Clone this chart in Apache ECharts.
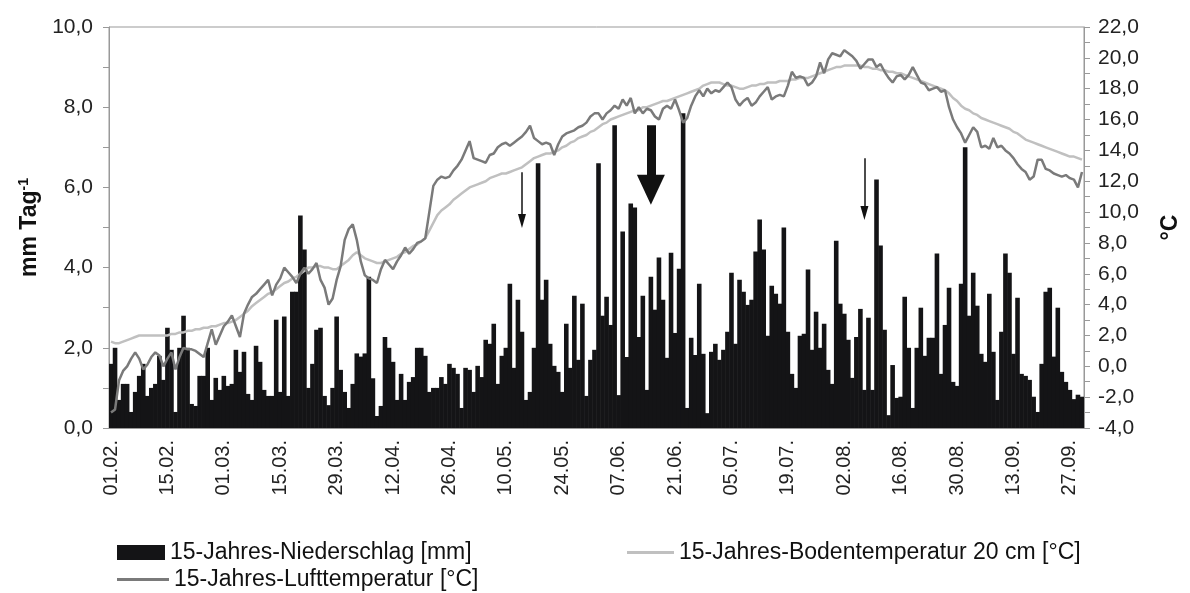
<!DOCTYPE html>
<html>
<head>
<meta charset="utf-8">
<script src="https://cdn.jsdelivr.net/npm/echarts@6/dist/echarts.min.js"></script>
<style>
  html, body { margin: 0; padding: 0; background: #fff; }
  #chart { width: 1190px; height: 593px; }
</style>
</head>
<body>
<div id="chart"></div>
<script>
// days 01.02. .. 30.09.
const monthLengths = [28, 31, 30, 31, 30, 31, 31, 30]
const firstMonth = 2
const days = []
monthLengths.forEach((n, m) => {
    for (let d = 1; d <= n; d++) {
        days.push(String(d).padStart(2, '0') + '.' + String(firstMonth + m).padStart(2, '0') + '.')
    }
})

// 15-Jahres-Niederschlag [mm] per day
const precip = [
    1.6, 2.0, 0.7, 1.1, 1.1, 0.4, 0.9, 1.3, 1.6, 0.8,
    1.0, 1.1, 1.8, 1.2, 2.5, 1.95, 0.4, 2.0, 2.8, 2.0,
    0.6, 0.55, 1.3, 1.3, 2.0, 0.7, 1.25, 0.95, 1.3, 1.05,
    1.1, 1.95, 1.4, 1.9, 0.85, 0.7, 2.05, 1.65, 0.95, 0.8,
    0.8, 2.7, 0.9, 2.78, 0.8, 3.4, 3.4, 5.3, 4.45, 1.0,
    1.6, 2.45, 2.5, 0.8, 0.57, 1.0, 2.78, 1.45, 0.9, 0.5,
    1.1, 1.86, 1.78, 1.86, 3.77, 1.24, 0.3, 0.55, 2.27, 2.0,
    1.65, 0.7, 1.35, 0.7, 1.15, 1.27, 2.0, 2.0, 1.8, 0.9,
    1.0, 1.0, 1.27, 1.1, 1.6, 1.5, 1.35, 0.5, 1.5, 1.45,
    0.9, 1.55, 1.27, 2.2, 2.1, 2.6, 1.1, 1.8, 2.0, 3.6,
    1.5, 3.2, 2.4, 0.7, 0.9, 2.0, 6.6, 3.2, 3.7, 2.1,
    1.55, 1.4, 0.9, 2.6, 1.5, 3.3, 1.7, 3.1, 0.8, 1.7,
    1.95, 6.6, 2.8, 3.27, 2.57, 7.55, 0.82, 4.9, 1.77, 5.6,
    5.5, 2.27, 3.3, 0.95, 3.77, 2.95, 4.25, 3.2, 1.75, 4.37,
    2.37, 3.97, 7.85, 0.5, 2.25, 1.82, 3.6, 1.85, 0.37, 1.9,
    2.1, 1.7, 1.95, 2.4, 3.87, 2.1, 3.7, 3.4, 3.07, 3.2,
    4.4, 5.2, 4.45, 2.3, 3.55, 3.35, 3.1, 5.0, 2.4, 1.35,
    1.0, 2.3, 2.35, 3.95, 1.95, 2.9, 2.0, 2.6, 1.45, 1.1,
    4.67, 3.1, 2.85, 2.2, 1.25, 2.27, 2.97, 0.95, 2.75, 0.95,
    6.2, 4.55, 2.45, 0.32, 1.57, 0.75, 0.78, 3.27, 2.0, 0.5,
    2.0, 3.0, 1.8, 2.25, 2.25, 4.35, 1.35, 2.57, 3.5, 1.15,
    1.05, 3.6, 7.0, 2.8, 3.87, 3.05, 1.85, 1.65, 3.35, 1.9,
    0.7, 2.4, 4.35, 3.87, 1.85, 3.25, 1.35, 1.3, 1.2, 0.78,
    0.4, 1.6, 3.4, 3.5, 1.78, 3.0, 1.4, 1.15, 0.95, 0.72,
    0.83, 0.78
]

// 15-Jahres-Lufttemperatur [°C]
const airTemp = [
    -3.0, -2.8, -0.9, -0.3, 0.0, 0.5, 0.9, 0.5, -0.2, 0.1,
    0.6, 0.9, 0.7, 0.0, 0.5, 0.9, -0.2, 0.6, 1.2, 1.1,
    1.1, 1.0, 0.8, 0.6, 1.5, 2.4, 1.4, 2.0, 2.6, 2.9,
    3.3, 2.6, 1.9, 3.4, 4.0, 4.5, 4.7, 5.0, 5.3, 5.6,
    4.6, 5.3, 5.7, 6.4, 6.1, 5.8, 5.4, 6.0, 6.4, 6.0,
    6.3, 6.7, 5.6, 5.1, 4.0, 4.4, 5.6, 6.5, 8.2, 8.9,
    9.2, 8.2, 6.8, 5.9, 5.7, 5.6, 5.4, 6.3, 6.9, 6.6,
    6.3, 6.8, 7.2, 7.7, 7.3, 7.6, 8.0, 8.1, 8.3, 10.0,
    11.7, 12.1, 12.3, 12.2, 12.3, 12.7, 13.0, 13.4, 14.0, 14.6,
    13.5, 13.4, 13.3, 13.2, 13.7, 13.8, 14.2, 14.4, 14.5, 14.3,
    14.5, 14.7, 14.9, 15.2, 15.6, 14.8, 14.6, 14.4, 14.5, 14.4,
    13.7, 14.4, 14.9, 15.1, 15.2, 15.3, 15.5, 15.6, 15.8, 16.2,
    16.4, 16.4, 16.0, 16.4, 16.6, 16.9, 16.7, 17.3, 16.9, 17.4,
    16.4, 16.8, 16.4, 16.7, 16.6, 16.2, 16.0, 16.7, 16.9, 16.7,
    17.3, 16.6, 15.8, 16.1, 16.9, 17.5, 17.9, 17.5, 18.0, 17.7,
    17.9, 17.8, 18.1, 18.4, 18.1, 17.3, 16.9, 17.2, 17.4, 16.9,
    17.1, 17.5, 17.8, 18.1, 17.3, 17.5, 17.6, 17.5, 18.2, 19.1,
    18.7, 18.8, 18.7, 18.2, 18.4, 18.8, 19.7, 19.0, 19.9, 20.3,
    20.2, 20.1, 20.5, 20.3, 20.1, 19.8, 19.3, 19.6, 19.9, 19.9,
    19.4, 19.6, 19.1, 18.7, 18.4, 18.8, 18.9, 18.6, 18.9, 19.4,
    18.9, 18.4, 18.3, 17.9, 18.0, 18.1, 17.8, 17.9, 16.8, 16.0,
    15.5, 15.1, 14.5, 15.0, 15.5, 15.2, 14.2, 14.3, 14.1, 14.8,
    14.2, 14.3, 14.0, 13.8, 13.5, 13.1, 12.8, 12.6, 12.1, 12.3,
    13.4, 13.4, 12.8, 12.7, 12.5, 12.4, 12.3, 12.4, 12.2, 12.1,
    11.6, 12.6
]

// 15-Jahres-Bodentemperatur 20 cm [°C]
const soilTemp = [
    1.6, 1.5, 1.5, 1.6, 1.7, 1.8, 1.9, 2.0, 2.0, 2.0,
    2.0, 2.0, 2.0, 2.0, 2.0, 2.1, 2.1, 2.2, 2.2, 2.3,
    2.3, 2.4, 2.4, 2.5, 2.5, 2.6, 2.6, 2.7, 2.8, 2.8,
    2.9, 3.0, 3.2, 3.4, 3.6, 3.9, 4.1, 4.3, 4.5, 4.7,
    4.8, 5.0, 5.2, 5.4, 5.5, 5.7, 5.8, 6.0, 6.2, 6.4,
    6.4, 6.5, 6.5, 6.4, 6.4, 6.3, 6.3, 6.5, 6.7, 6.9,
    7.2, 7.4, 7.2, 7.0, 6.9, 6.8, 6.7, 6.7, 6.8, 6.9,
    7.0, 7.1, 7.3, 7.4, 7.6, 7.8, 7.9, 8.1, 8.3, 8.8,
    9.3, 9.8, 10.1, 10.3, 10.5, 10.8, 11.0, 11.2, 11.4, 11.6,
    11.7, 11.8, 11.9, 12.0, 12.2, 12.3, 12.4, 12.5, 12.5, 12.6,
    12.7, 12.8, 12.9, 13.1, 13.3, 13.5, 13.6, 13.7, 13.8, 13.8,
    13.9, 14.0, 14.2, 14.3, 14.5, 14.6, 14.8, 14.9, 15.0, 15.2,
    15.3, 15.5, 15.7, 15.8, 16.0, 16.1, 16.2, 16.3, 16.4, 16.5,
    16.6, 16.6, 16.8, 16.8, 16.9, 17.0, 17.1, 17.2, 17.2, 17.3,
    17.4, 17.5, 17.6, 17.7, 17.8, 17.9, 18.0, 18.2, 18.3, 18.4,
    18.4, 18.4, 18.3, 18.2, 18.2, 18.1, 18.0, 18.0, 18.1, 18.2,
    18.2, 18.3, 18.3, 18.4, 18.4, 18.4, 18.5, 18.5, 18.5, 18.6,
    18.6, 18.7, 18.7, 18.7, 18.8, 18.9, 19.0, 19.1, 19.2, 19.3,
    19.4, 19.4, 19.5, 19.5, 19.5, 19.5, 19.5, 19.4, 19.4, 19.3,
    19.3, 19.2, 19.2, 19.1, 19.1, 19.0, 19.0, 18.9, 18.8, 18.7,
    18.6, 18.5, 18.4, 18.3, 18.2, 18.1, 18.0, 17.9, 17.7, 17.4,
    17.2, 16.9, 16.7, 16.6, 16.4, 16.3, 16.1, 16.0, 15.9, 15.8,
    15.7, 15.6, 15.5, 15.4, 15.2, 15.1, 14.9, 14.7, 14.6, 14.5,
    14.4, 14.3, 14.2, 14.1, 14.0, 13.9, 13.8, 13.7, 13.6, 13.6,
    13.5, 13.4
]

// arrows: [day index, top value, tip value] in mm
const thinArrows = [[102, 6.38, 5.16], [187, 6.73, 5.36]]
const thickArrow = [134, 7.55, 5.94]

const FONT = 'Liberation Sans, Arial, sans-serif'
const comma = v => v.toFixed(1).replace('.', ',')
const legendText = { fontFamily: FONT, fontSize: 23, color: '#111' }

const arrowLines = thinArrows.map(a => [
    { coord: [days[a[0]], a[1]], symbol: 'none' },
    { coord: [days[a[0]], a[2]], symbol: 'triangle', symbolSize: [8, 14] }
])

const chart = echarts.init(document.getElementById('chart'))
chart.setOption({
    backgroundColor: '#fff',
    animation: false,
    textStyle: { fontFamily: FONT },
    grid: { left: 109, right: 99, top: 27, bottom: 165, show: true, borderColor: '#999', borderWidth: 1 },
    legend: [
        {
            left: 112, top: 536,
            itemWidth: 48, itemHeight: 15,
            textStyle: legendText,
            data: [{ name: '15-Jahres-Niederschlag [mm]', icon: 'rect' }]
        },
        {
            left: 622, top: 536,
            itemWidth: 47, itemHeight: 3,
            textStyle: legendText,
            data: [{ name: '15-Jahres-Bodentemperatur 20 cm [°C]', icon: 'rect' }]
        },
        {
            left: 112, top: 563,
            itemWidth: 52, itemHeight: 3,
            textStyle: legendText,
            data: [{ name: '15-Jahres-Lufttemperatur [°C]', icon: 'rect' }]
        }
    ],
    xAxis: {
        type: 'category',
        data: days,
        boundaryGap: true,
        axisLine: { lineStyle: { color: '#999' } },
        axisTick: { interval: 0, length: 4, lineStyle: { color: '#bbb' } },
        axisLabel: {
            interval: 13, rotate: 90, margin: 12,
            fontFamily: FONT, fontSize: 20, color: '#222'
        },
        splitLine: { show: false }
    },
    yAxis: [
        {
            type: 'value', min: 0, max: 10, interval: 2,
            name: '{a|mm Tag}{b|-1}',
            nameLocation: 'middle', nameGap: 64,
            nameTextStyle: {
                rich: {
                    a: { fontFamily: FONT, fontSize: 23, fontWeight: 'bold', color: '#111' },
                    b: { fontFamily: FONT, fontSize: 14, fontWeight: 'bold', color: '#111', verticalAlign: 'top', padding: [0, 0, 12, 0] }
                }
            },
            axisLine: { show: true, lineStyle: { color: '#999' } },
            axisTick: { show: true, length: 6, lineStyle: { color: '#999' } },
            minorTick: { show: true, splitNumber: 2, length: 6, lineStyle: { color: '#999' } },
            splitLine: { show: false },
            axisLabel: { margin: 16, fontFamily: FONT, fontSize: 21, color: '#222', formatter: comma }
        },
        {
            type: 'value', min: -4, max: 22, interval: 2,
            name: '°C',
            nameLocation: 'middle', nameGap: 75, nameRotate: 90,
            nameTextStyle: { fontFamily: FONT, fontSize: 23, fontWeight: 'bold', color: '#111' },
            axisLine: { show: true, lineStyle: { color: '#999' } },
            axisTick: { show: true, length: 6, lineStyle: { color: '#999' } },
            minorTick: { show: true, splitNumber: 2, length: 6, lineStyle: { color: '#999' } },
            splitLine: { show: false },
            axisLabel: { margin: 14, fontFamily: FONT, fontSize: 21, color: '#222', formatter: comma }
        }
    ],
    series: [
        {
            name: '15-Jahres-Niederschlag [mm]',
            type: 'bar',
            data: precip,
            barWidth: 4.6,
            itemStyle: { color: '#141416' },
            markLine: {
                silent: true,
                label: { show: false },
                lineStyle: { color: '#111', type: 'solid', width: 1.5 },
                data: [
                    ...arrowLines,
                    [
                        { coord: [days[thickArrow[0]], thickArrow[1]], symbol: 'none', lineStyle: { width: 9 } },
                        { coord: [days[thickArrow[0]], thickArrow[2]], symbol: 'triangle', symbolSize: [28, 30], lineStyle: { width: 9 } }
                    ]
                ]
            }
        },
        {
            name: '15-Jahres-Bodentemperatur 20 cm [°C]',
            type: 'line',
            yAxisIndex: 1,
            data: soilTemp,
            symbol: 'none',
            lineStyle: { color: '#c0c0c0', width: 2.5 },
            itemStyle: { color: '#c0c0c0' }
        },
        {
            name: '15-Jahres-Lufttemperatur [°C]',
            type: 'line',
            yAxisIndex: 1,
            data: airTemp,
            symbol: 'none',
            lineStyle: { color: '#7a7a7a', width: 2.5 },
            itemStyle: { color: '#7a7a7a' }
        }
    ]
})
</script>
</body>
</html>
